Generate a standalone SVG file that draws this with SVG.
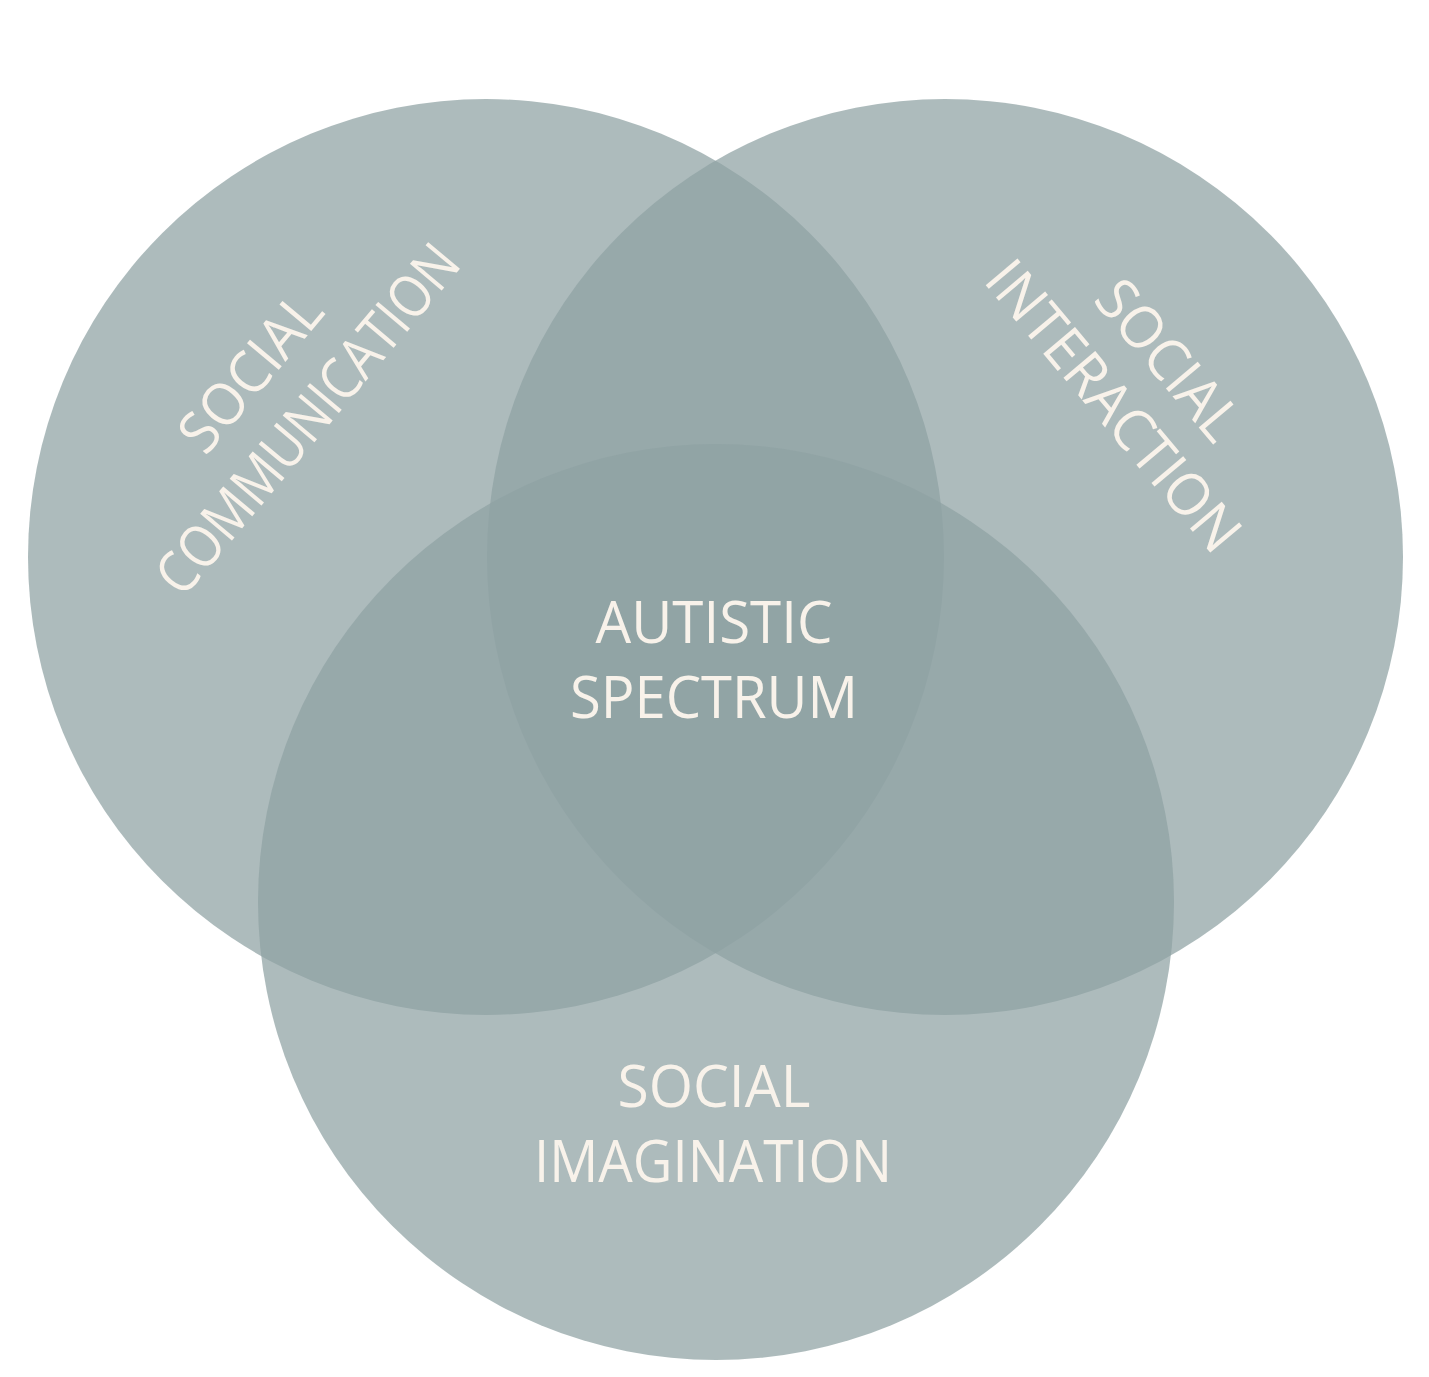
<svg xmlns="http://www.w3.org/2000/svg" width="1429" height="1377" viewBox="0 0 1429 1377">
  <style>
    .circle { fill: #8fa2a3; fill-opacity: 0.73; }
    .label { font-family: "Open Sans", "Noto Sans", "Liberation Sans", sans-serif; font-size: 58px; fill: #f8f2ea; text-anchor: middle; }
  </style>
  <rect x="0" y="0" width="1429" height="1377" fill="#ffffff"/>
  <g id="social-communication">
    <circle class="circle" cx="486" cy="557" r="458"/>
    <g transform="translate(266,385) rotate(-50)">
      <text class="label" x="0" y="0" textLength="188" lengthAdjust="spacingAndGlyphs">SOCIAL</text>
    </g>
    <g transform="translate(323,432) rotate(-50)">
      <text class="label" x="0" y="0" textLength="436" lengthAdjust="spacingAndGlyphs">COMMUNICATION</text>
    </g>
  </g>
  <g id="social-interaction">
    <circle class="circle" cx="945" cy="557" r="458"/>
    <g transform="translate(1153,373) rotate(50)">
      <text class="label" x="0" y="0" textLength="190" lengthAdjust="spacingAndGlyphs">SOCIAL</text>
    </g>
    <g transform="translate(1098,419) rotate(50)">
      <text class="label" x="0" y="0" textLength="360" lengthAdjust="spacingAndGlyphs">INTERACTION</text>
    </g>
  </g>
  <g id="social-imagination">
    <circle class="circle" cx="716" cy="902" r="458"/>
    <text class="label" x="714" y="1107" textLength="193" lengthAdjust="spacingAndGlyphs">SOCIAL</text>
    <text class="label" x="713" y="1182" textLength="358" lengthAdjust="spacingAndGlyphs">IMAGINATION</text>
  </g>
  <g id="autistic-spectrum">
    <text class="label" x="714" y="643" textLength="237" lengthAdjust="spacingAndGlyphs">AUTISTIC</text>
    <text class="label" x="714" y="718" textLength="288" lengthAdjust="spacingAndGlyphs">SPECTRUM</text>
  </g>
</svg>
